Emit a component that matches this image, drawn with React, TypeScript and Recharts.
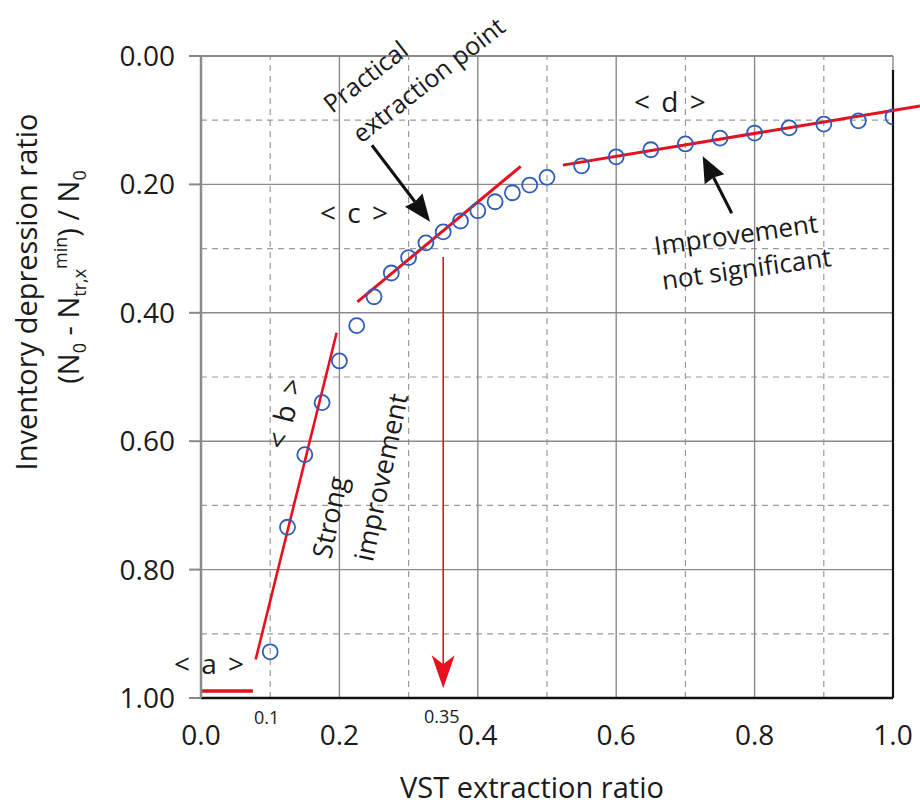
import {
  ScatterChart,
  Scatter,
  XAxis,
  YAxis,
  ReferenceLine,
  ReferenceDot,
  Customized,
} from "recharts";

const FONT = "'Open Sans', sans-serif";
const BLUE = "#2e5cb8";
const RED = "#e8101f";

// measured points
const extractionRatio = [
  0.1, 0.125, 0.15, 0.175, 0.2, 0.225, 0.25, 0.275, 0.3, 0.325, 0.35, 0.375,
  0.4, 0.425, 0.45, 0.475, 0.5, 0.55, 0.6, 0.65, 0.7, 0.75, 0.8, 0.85, 0.9,
  0.95, 1.0,
];
const depressionRatio = [
  0.928, 0.734, 0.621, 0.54, 0.475, 0.42, 0.375, 0.338, 0.314, 0.291, 0.274,
  0.257, 0.241, 0.227, 0.213, 0.201, 0.189, 0.171, 0.157, 0.146, 0.137, 0.128,
  0.12, 0.112, 0.106, 0.101, 0.095,
];

const xTicks = [0, 0.2, 0.4, 0.6, 0.8, 1.0];
const yTicks = [0, 0.2, 0.4, 0.6, 0.8, 1.0];
const majorGrid = [0.2, 0.4, 0.6, 0.8];
const minorGrid = [0.1, 0.3, 0.5, 0.7, 0.9];

// red fitted segments <a>..<d>
const fitA = [{ x: 0, y: 0.989 }, { x: 0.075, y: 0.989 }];
const fitB = [{ x: 0.079, y: 0.94 }, { x: 0.196, y: 0.431 }];
const fitC = [{ x: 0.226, y: 0.383 }, { x: 0.462, y: 0.172 }];
const fitD = [{ x: 0.523, y: 0.17 }, { x: 1.039, y: 0.078 }];

// arrows
const practicalArrow = [{ x: 0.35, y: 0.313 }, { x: 0.35, y: 0.985 }];
const practicalPointer = [{ x: 0.247, y: 0.139 }, { x: 0.331, y: 0.258 }];
const flatPointer = [{ x: 0.767, y: 0.245 }, { x: 0.725, y: 0.156 }];

type Note = { x: number; y: number; text: string; angle: number; size: number; spacing?: number };
const notes: Note[] = [
  { x: 0.013, y: 0.945, text: "< a >", angle: 0, size: 28, spacing: 2 },
  { x: 0.12, y: 0.555, text: "< b >", angle: -76, size: 28, spacing: 2 },
  { x: 0.2225, y: 0.243, text: "< c >", angle: 0, size: 28, spacing: 2 },
  { x: 0.679, y: 0.07, text: "< d >", angle: 0, size: 28, spacing: 2 },
  { x: 0.237, y: 0.031, text: "Practical", angle: -38, size: 25 },
  { x: 0.328, y: 0.036, text: "extraction point", angle: -38, size: 25 },
  { x: 0.185, y: 0.718, text: "Strong", angle: -78, size: 27 },
  { x: 0.259, y: 0.656, text: "improvement", angle: -78, size: 27 },
  { x: 0.773, y: 0.277, text: "Improvement", angle: -8, size: 26 },
  { x: 0.788, y: 0.33, text: "not significant", angle: -8, size: 26 },
  { x: 0.095, y: 1.03, text: "0.1", angle: 0, size: 18 },
  { x: 0.348, y: 1.028, text: "0.35", angle: 0, size: 18 },
];

const points = extractionRatio.map((x, i) => ({ x, y: depressionRatio[i] }));

function arrowShape(color: string, width: number, headLen: number, headWidth: number, notch: number) {
  return (p: any) => {
    const { x1, y1, x2, y2 } = p;
    const dx = x2 - x1;
    const dy = y2 - y1;
    const len = Math.hypot(dx, dy) || 1;
    const ux = dx / len;
    const uy = dy / len;
    const px = -uy;
    const py = ux;
    const bx = x2 - ux * headLen;
    const by = y2 - uy * headLen;
    const nx = x2 - ux * (headLen - notch);
    const ny = y2 - uy * (headLen - notch);
    const pts = [
      [x2, y2],
      [bx + (px * headWidth) / 2, by + (py * headWidth) / 2],
      [nx, ny],
      [bx - (px * headWidth) / 2, by - (py * headWidth) / 2],
    ]
      .map((q) => q.join(","))
      .join(" ");
    return (
      <g>
        <line x1={x1} y1={y1} x2={nx} y2={ny} stroke={color} strokeWidth={width} />
        <polygon points={pts} fill={color} />
      </g>
    );
  };
}

function noteShape(n: Note) {
  return (p: any) => (
    <text
      x={p.cx}
      y={p.cy}
      textAnchor="middle"
      dominantBaseline="central"
      transform={`rotate(${n.angle} ${p.cx} ${p.cy})`}
      fontFamily={FONT}
      fontSize={n.size}
      letterSpacing={n.spacing ?? 0}
      fill="#1a1a1a"
    >
      {n.text}
    </text>
  );
}

function AxisTitles() {
  return (
    <g fontFamily={FONT} fill="#1a1a1a">
      <text x={532} y={798} textAnchor="middle" fontSize={29}>
        VST extraction ratio
      </text>
      <text transform="translate(37 292) rotate(-90)" textAnchor="middle" fontSize={29}>
        Inventory depression ratio
      </text>
      <text transform="translate(79 277) rotate(-90)" textAnchor="middle" fontSize={29}>
        <tspan>(N</tspan>
        <tspan fontSize={18} dy={7}>0</tspan>
        <tspan dy={-7}> - N</tspan>
        <tspan fontSize={18} dy={7}>tr,x</tspan>
        <tspan fontSize={18} dy={-19}>min</tspan>
        <tspan dy={12}>) / N</tspan>
        <tspan fontSize={18} dy={7}>0</tspan>
      </text>
    </g>
  );
}

export default function App() {
  return (
    <div style={{ position: "absolute", left: 0, top: 0, background: "#fff" }}>
      <ScatterChart
        width={920}
        height={807}
        margin={{ top: 56, right: 27, left: 0, bottom: 49 }}
        style={{ fontFamily: FONT }}
      >
        <XAxis
          type="number"
          dataKey="x"
          domain={[0, 1]}
          ticks={xTicks}
          tickFormatter={(v: number) => v.toFixed(1)}
          height={60}
          tickLine={false}
          tickSize={0}
          tickMargin={27}
          axisLine={{ stroke: "#111", strokeWidth: 2.5 }}
          tick={{ fill: "#1a1a1a", fontSize: 28, fontFamily: FONT }}
          allowDataOverflow
        />
        <YAxis
          type="number"
          dataKey="y"
          domain={[0, 1]}
          reversed
          ticks={yTicks}
          tickFormatter={(v: number) => v.toFixed(2)}
          width={201}
          tickSize={12}
          tickMargin={14}
          tickLine={{ stroke: "#888", strokeWidth: 2 }}
          axisLine={{ stroke: "#8a8a8a", strokeWidth: 2.5 }}
          tick={{ fill: "#1a1a1a", fontSize: 28, fontFamily: FONT }}
          allowDataOverflow
        />
        {minorGrid.map((v) => (
          <ReferenceLine key={`mx${v}`} x={v} stroke="#9a9a9a" strokeWidth={1.2} strokeDasharray="6 5" />
        ))}
        {minorGrid.map((v) => (
          <ReferenceLine key={`my${v}`} y={v} stroke="#9a9a9a" strokeWidth={1.2} strokeDasharray="6 5" />
        ))}
        {majorGrid.map((v) => (
          <ReferenceLine key={`Mx${v}`} x={v} stroke="#8a8a8a" strokeWidth={1.4} />
        ))}
        {majorGrid.map((v) => (
          <ReferenceLine key={`My${v}`} y={v} stroke="#8a8a8a" strokeWidth={1.4} />
        ))}
        <ReferenceLine y={0} stroke="#8a8a8a" strokeWidth={2} />
        <ReferenceLine x={1} stroke="#8a8a8a" strokeWidth={1.4} />
        <ReferenceLine segment={[{ x: 1, y: 0.022 }, { x: 1, y: 1 }]} stroke="#111" strokeWidth={2.2} />

        <ReferenceLine segment={fitA} stroke={RED} strokeWidth={3.5} ifOverflow="visible" />
        <ReferenceLine segment={fitB} stroke={RED} strokeWidth={2.6} ifOverflow="visible" />
        <ReferenceLine segment={fitC} stroke={RED} strokeWidth={3} ifOverflow="visible" />
        <ReferenceLine segment={fitD} stroke={RED} strokeWidth={3} ifOverflow="visible" />
        <ReferenceLine
          segment={practicalArrow}
          ifOverflow="visible"
          shape={arrowShape(RED, 1.6, 33, 23, 9)}
        />
        <ReferenceLine
          segment={practicalPointer}
          ifOverflow="visible"
          shape={arrowShape("#111", 3, 27, 22, 2)}
        />
        <ReferenceLine
          segment={flatPointer}
          ifOverflow="visible"
          shape={arrowShape("#111", 3, 26, 22, 2)}
        />

        <Scatter
          data={points}
          isAnimationActive={false}
          shape={(p: any) => (
            <circle cx={p.cx} cy={p.cy} r={7.5} fill="none" stroke={BLUE} strokeWidth={1.8} />
          )}
        />

        {notes.map((n) => (
          <ReferenceDot
            key={n.text}
            x={n.x}
            y={n.y}
            r={0}
            ifOverflow="visible"
            shape={noteShape(n)}
          />
        ))}
        <Customized component={AxisTitles} />
      </ScatterChart>
    </div>
  );
}
